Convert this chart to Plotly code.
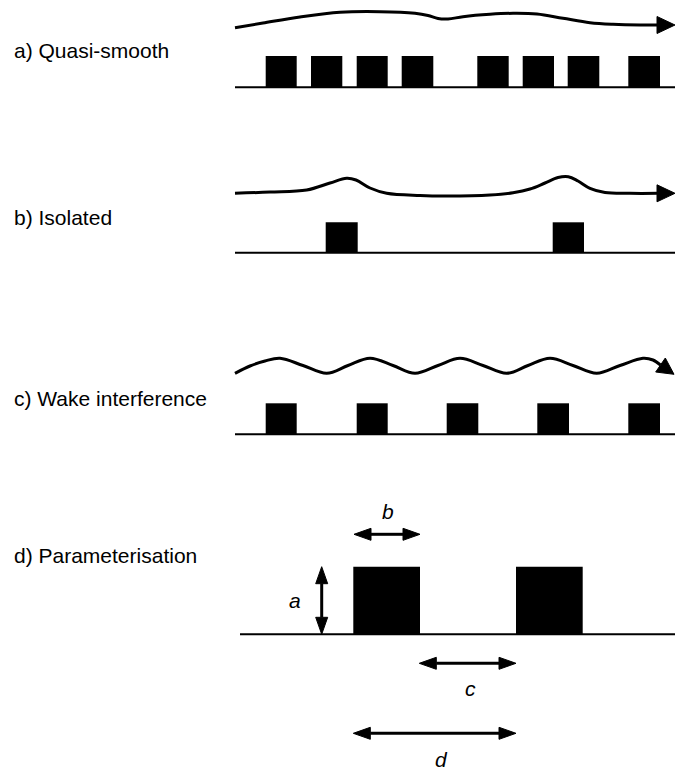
import math
import plotly.graph_objects as go

# ---------------- data (diagram coordinates, y grows downward) ----------------
panel_labels = ["a) Quasi-smooth", "b) Isolated", "c) Wake interference", "d) Parameterisation"]
label_y = [50, 217, 398, 555]

# baselines: (x0, x1, y)
base_x0 = [235, 235, 235, 240]
base_x1 = [675, 675, 675, 675]
base_y = [87.3, 252.7, 434.3, 634.3]
block_top = [56, 222.3, 403.3, 566.7]

blocks_a_left = [265.7, 311, 356.7, 401.7, 477.3, 522.7, 567.7, 628.3]
blocks_a_right = [296.7, 342.3, 387.7, 433.3, 508.7, 554, 599.3, 660]
blocks_b_left = [325.7, 552.7]
blocks_b_right = [357.7, 584]
blocks_c_left = [265.7, 356.7, 446.7, 537.3, 628.3]
blocks_c_right = [296.7, 387.7, 478.3, 569, 660]
blocks_d_left = [353.3, 516]
blocks_d_right = [420, 582.7]

flow_a_x = [235, 263, 300, 340, 380, 415, 428, 438, 448, 463, 490, 513, 537, 563, 590, 613, 640, 658]
flow_a_y = [27.7, 23, 17, 12.3, 11.7, 13.3, 15.5, 18.5, 19, 16.7, 14.3, 13.3, 14, 18.3, 22.7, 24.3, 25, 25]
flow_a_tip = (675, 25)

flow_b_x = [235, 270, 306.7, 330, 346.7, 356, 370, 386.7, 420, 446.7, 490, 513, 530, 545, 558, 568.3, 578, 590, 605, 630, 658]
flow_b_y = [193.3, 192, 190, 183, 178.3, 180, 188, 193.3, 195.5, 196, 195, 192.7, 189, 183, 177.5, 176.7, 181, 188.3, 192.5, 193.3, 193.3]
flow_b_tip = (675, 193.3)

flow_c_x = [235, 250, 265, 280, 303, 326.7, 348, 370, 393, 415, 438, 460, 483, 506.7, 528, 550, 573, 596.7, 620, 643, 653, 660.5]
flow_c_y = [373.3, 366, 361, 358.3, 365.5, 373.3, 365.5, 358.3, 365.5, 373.3, 365.5, 358.3, 365.5, 373.3, 365.5, 358.3, 365.5, 373.3, 365.5, 358.3, 360, 365]
flow_c_tip = (674, 374.3)

# dimension arrows: (x0, y0, x1, y1)
dim_names = ["a", "b", "c", "d"]
dim_x0 = [321.7, 354, 419.3, 353.3]
dim_y0 = [566.7, 534.3, 663.3, 733.3]
dim_x1 = [321.7, 420, 516, 516]
dim_y1 = [634.3, 534.3, 663.3, 733.3]
dim_label_x = [295, 388.3, 470, 441.7]
dim_label_y = [600, 511.7, 688, 759]

# page has an 8px body margin: shift the plotting area so coordinates map to page pixels
OFF = 8
W, H = 688, 770
fig = go.Figure()


def head(tip, base_mid, half_w):
    tx, ty = tip
    bx, by = base_mid
    dx, dy = tx - bx, ty - by
    L = math.hypot(dx, dy)
    nx, ny = -dy / L, dx / L
    xs = [tx, bx + nx * half_w, bx - nx * half_w, tx]
    ys = [ty, by + ny * half_w, by - ny * half_w, ty]
    fig.add_trace(go.Scatter(x=xs, y=ys, mode="lines", fill="toself",
                             fillcolor="black", line=dict(color="black", width=1),
                             hoverinfo="skip", showlegend=False, cliponaxis=False))


# baselines
for x0, x1, y in zip(base_x0, base_x1, base_y):
    fig.add_trace(go.Scatter(x=[x0, x1], y=[y, y], mode="lines",
                             line=dict(color="black", width=2), hoverinfo="skip", showlegend=False))

# blocks
shapes = []
for (lefts, rights), top, bot in zip(
        [(blocks_a_left, blocks_a_right), (blocks_b_left, blocks_b_right),
         (blocks_c_left, blocks_c_right), (blocks_d_left, blocks_d_right)],
        block_top, base_y):
    for l, r in zip(lefts, rights):
        shapes.append(dict(type="rect", xref="x", yref="y", x0=l, x1=r, y0=top, y1=bot,
                           fillcolor="black", line=dict(width=0)))

# flow lines
for fx, fy, tip in [(flow_a_x, flow_a_y, flow_a_tip), (flow_b_x, flow_b_y, flow_b_tip),
                    (flow_c_x, flow_c_y, flow_c_tip)]:
    fig.add_trace(go.Scatter(x=fx, y=fy, mode="lines",
                             line=dict(color="black", width=3, shape="spline", smoothing=1.0),
                             hoverinfo="skip", showlegend=False))
    head(tip, (fx[-1], fy[-1]) if tip[1] != fy[-1] else (tip[0] - 18, tip[1]), 8.5)

# dimension arrows
HL = 17
for x0, y0, x1, y1 in zip(dim_x0, dim_y0, dim_x1, dim_y1):
    dx, dy = x1 - x0, y1 - y0
    L = math.hypot(dx, dy)
    ux, uy = dx / L, dy / L
    b0 = (x0 + ux * HL, y0 + uy * HL)
    b1 = (x1 - ux * HL, y1 - uy * HL)
    fig.add_trace(go.Scatter(x=[b0[0], b1[0]], y=[b0[1], b1[1]], mode="lines",
                             line=dict(color="black", width=3), hoverinfo="skip", showlegend=False))
    head((x0, y0), b0, 6)
    head((x1, y1), b1, 6)

annotations = []
for t, y in zip(panel_labels, label_y):
    annotations.append(dict(x=12, y=y, xref="x", yref="y", text=t, showarrow=False,
                            xanchor="left", yanchor="middle",
                            font=dict(family="Liberation Sans, Arial", size=21, color="black")))
for t, x, y in zip(dim_names, dim_label_x, dim_label_y):
    annotations.append(dict(x=x, y=y, xref="x", yref="y", text="<i>%s</i>" % t, showarrow=False,
                            xanchor="center", yanchor="middle",
                            font=dict(family="Liberation Sans, Arial", size=21, color="black")))

fig.update_layout(
    width=W - OFF, height=H - OFF, margin=dict(l=0, r=0, t=0, b=0),
    paper_bgcolor="white", plot_bgcolor="white",
    xaxis=dict(range=[OFF, W], visible=False, fixedrange=True),
    yaxis=dict(range=[H, OFF], visible=False, fixedrange=True),
    shapes=shapes, annotations=annotations, showlegend=False,
)
fig.write_html("out.html")
